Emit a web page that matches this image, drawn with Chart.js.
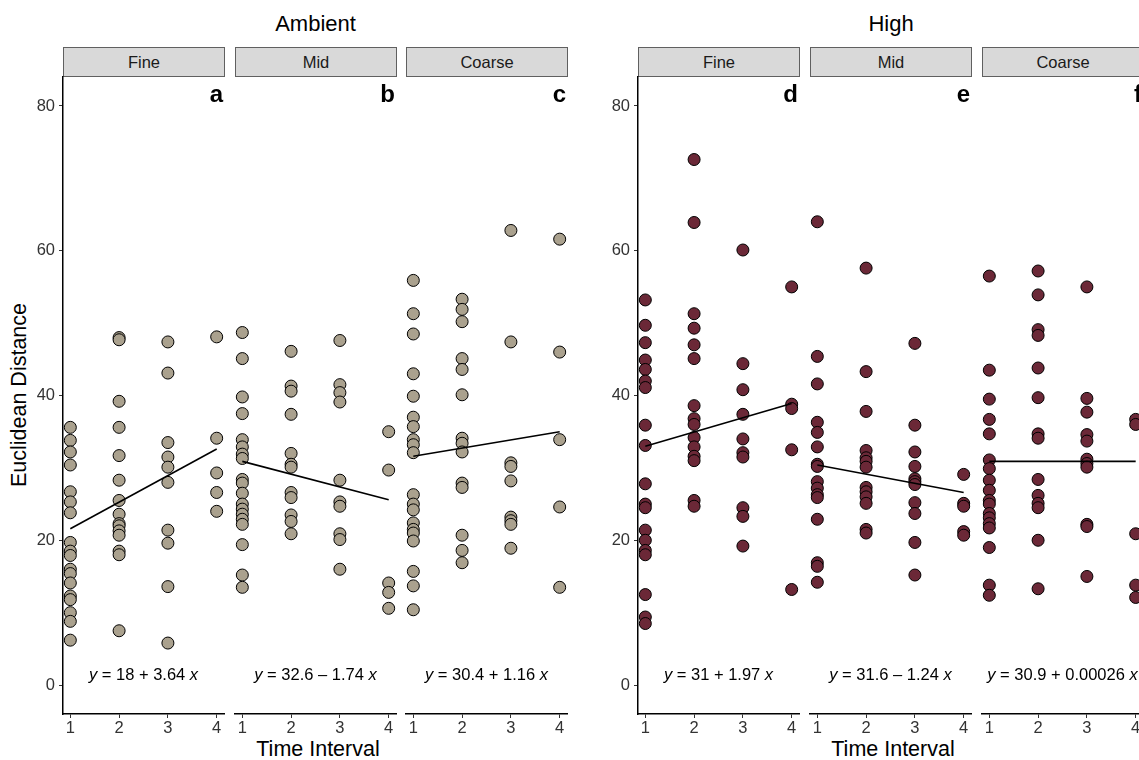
<!DOCTYPE html>
<html>
<head>
<meta charset="utf-8">
<script src="https://cdn.jsdelivr.net/npm/chart.js"></script>
<style>
html, body { margin: 0; padding: 0; overflow: hidden; background: #fff; }
body { width: 1139px; height: 760px; position: relative; font-family: "Liberation Sans", Arial, sans-serif; }
canvas { position: absolute; }
.title { position: absolute; font-size: 22px; line-height: 26px; text-align: center; color: #000; }
.strip { position: absolute; top: 47px; height: 30px; box-sizing: border-box; border: 1px solid #606060;
         background: #d9d9d9; font-size: 16.5px; line-height: 28px; text-align: center; color: #1a1a1a; }
.axtitle { position: absolute; font-size: 21.5px; line-height: 26px; text-align: center; color: #000; }
</style>
</head>
<body>
<script>
// time intervals on the x axis
var timeIntervals = [1, 2, 3, 4];
var yTicks = [0, 20, 40, 60, 80];

// Euclidean distance, one list per time interval
var ambFine = [
    [35.6, 33.8, 32.2, 30.4, 26.7, 25.3, 23.8, 19.7, 18.5, 17.9, 16.0, 15.4, 14.1, 12.3, 11.8, 10.0, 8.8, 6.2],
    [48.0, 47.7, 39.2, 35.6, 31.7, 28.3, 25.5, 23.6, 22.3, 22.0, 21.3, 20.7, 18.5, 18.0, 7.5],
    [47.4, 43.1, 33.5, 31.5, 30.1, 28.0, 21.4, 19.6, 13.6, 5.8],
    [48.1, 34.1, 29.3, 26.6, 24.0]
];
var ambMid = [
    [48.7, 45.1, 39.8, 37.5, 33.9, 32.9, 31.9, 31.3, 28.4, 27.9, 26.5, 25.0, 24.3, 23.6, 22.9, 22.2, 19.4, 15.2, 13.5],
    [46.1, 41.3, 40.6, 37.4, 32.0, 30.5, 30.1, 26.6, 25.9, 23.5, 22.6, 20.9],
    [47.6, 41.5, 40.4, 39.1, 28.3, 25.3, 24.7, 20.9, 20.1, 16.0],
    [35.0, 29.7, 14.1, 12.8, 10.6]
];
var ambCoarse = [
    [55.9, 51.3, 48.5, 43.0, 39.9, 37.0, 35.7, 33.9, 33.2, 32.1, 26.3, 25.0, 24.2, 22.4, 21.5, 21.0, 19.9, 15.7, 13.7, 10.4],
    [53.3, 51.9, 50.2, 45.1, 43.6, 40.1, 34.1, 33.4, 32.2, 27.9, 27.3, 20.7, 18.6, 16.9],
    [62.8, 47.4, 30.7, 30.2, 28.2, 23.2, 22.7, 22.2, 18.9],
    [61.6, 46.0, 33.9, 24.6, 13.5]
];
var highFine = [
    [53.2, 49.7, 47.3, 44.9, 43.6, 42.0, 41.1, 35.9, 33.1, 27.8, 25.0, 24.5, 21.4, 20.0, 18.6, 18.0, 12.5, 9.4, 8.5],
    [72.6, 63.9, 51.3, 49.3, 47.0, 45.1, 38.6, 36.8, 36.0, 34.2, 32.9, 31.6, 31.0, 25.5, 24.7],
    [60.1, 44.4, 40.8, 37.4, 34.0, 32.1, 31.5, 24.5, 23.3, 19.2],
    [55.0, 38.8, 38.2, 32.5, 13.2]
];
var highMid = [
    [64.0, 45.4, 41.6, 36.3, 34.9, 32.9, 30.5, 30.2, 28.1, 27.2, 26.3, 25.9, 22.9, 16.9, 16.4, 14.2],
    [57.6, 43.3, 37.8, 32.4, 31.4, 30.9, 30.1, 27.3, 26.7, 26.0, 25.1, 21.5, 21.0],
    [47.2, 35.9, 32.2, 30.2, 28.5, 28.1, 27.7, 25.2, 23.7, 19.7, 15.2],
    [29.1, 25.1, 24.7, 21.2, 20.7]
];
var highCoarse = [
    [56.5, 43.5, 39.5, 36.7, 34.7, 31.1, 29.9, 28.3, 26.9, 25.5, 25.0, 23.7, 23.1, 22.3, 21.7, 19.0, 13.8, 12.4],
    [57.2, 53.9, 49.1, 48.3, 43.8, 39.7, 34.7, 34.1, 28.4, 26.2, 25.1, 24.5, 20.0, 13.3],
    [55.0, 39.6, 37.7, 34.6, 33.7, 31.2, 30.6, 30.1, 22.2, 21.9, 15.0],
    [36.7, 36.0, 20.9, 13.8, 12.1]
];

// fitted line ends at interval 1 and 4, and the printed equations
var fitStart = [21.6, 30.9, 31.6, 33.0, 30.4, 30.9];
var fitEnd = [32.6, 25.6, 35.0, 38.9, 26.6, 30.9];
var eqConst = ['18 + 3.64', '32.6 \u2013 1.74', '30.4 + 1.16', '31 + 1.97', '31.6 \u2013 1.24', '30.9 + 0.00026'];
var panelLetters = ['a', 'b', 'c', 'd', 'e', 'f'];
var stripLabels = ['Fine', 'Mid', 'Coarse', 'Fine', 'Mid', 'Coarse'];
var groups = ['Ambient', 'High'];

var allData = [ambFine, ambMid, ambCoarse, highFine, highMid, highCoarse];
var fills = ['#aaa18e', '#aaa18e', '#aaa18e', '#6b2837', '#6b2837', '#6b2837'];
var panelLeft = [63, 235, 406, 638, 810, 982];
var PW = 162, TOP = 77, BOTTOM = 714, YW = 63, XH = 46, PADT = 16;
var FONT = '"Liberation Sans", Arial, sans-serif';

function addDiv(cls, text, css) {
    var d = document.createElement('div');
    d.className = cls;
    d.textContent = text;
    for (var k in css) d.style[k] = css[k];
    document.body.appendChild(d);
    return d;
}

// group titles
addDiv('title', groups[0], { left: '63px', width: '505px', top: '11px' });
addDiv('title', groups[1], { left: '638px', width: '506px', top: '11px' });
// axis titles
addDiv('axtitle', 'Euclidean Distance', { left: (19 - 150) + 'px', top: (395 - 13) + 'px', width: '300px', transform: 'rotate(-90deg)' });
addDiv('axtitle', 'Time Interval', { left: '237px', top: '736px', width: PW + 'px' });
addDiv('axtitle', 'Time Interval', { left: '812px', top: '736px', width: PW + 'px' });

// equation under each panel and the bold panel letter
var labelPlugin = {
    id: 'labels',
    afterDatasetsDraw: function (chart) {
        var i = chart.options.plugins.labels.panel;
        var ctx = chart.ctx;
        var xs = chart.scales.x, ys = chart.scales.y;
        ctx.save();
        var parts = [['y', 'italic '], [' = ' + eqConst[i] + ' ', ''], ['x', 'italic ']];
        var w = 0;
        parts.forEach(function (p) { ctx.font = p[1] + '16.5px ' + FONT; w += ctx.measureText(p[0]).width; });
        var x0 = xs.getPixelForValue(2.5) - w / 2;
        var y0 = ys.getPixelForValue(1.5);
        ctx.fillStyle = '#000';
        ctx.textBaseline = 'alphabetic';
        ctx.textAlign = 'left';
        parts.forEach(function (p) {
            ctx.font = p[1] + '16.5px ' + FONT;
            ctx.fillText(p[0], x0, y0 + 6);
            x0 += ctx.measureText(p[0]).width;
        });
        ctx.font = 'bold 24px ' + FONT;
        ctx.textAlign = 'right';
        ctx.fillText(panelLetters[i], chart.chartArea.right - 1, chart.chartArea.top + 25);
        ctx.restore();
    }
};

for (var i = 0; i < 6; i++) {
    var L = panelLeft[i];
    addDiv('strip', stripLabels[i], { left: L + 'px', width: PW + 'px' });

    var cv = document.createElement('canvas');
    cv.width = YW + PW + 6;
    cv.height = BOTTOM - TOP + XH + PADT;
    cv.style.left = (L - YW) + 'px';
    cv.style.top = (TOP - PADT) + 'px';
    document.body.appendChild(cv);

    var pts = [];
    allData[i].forEach(function (vals, k) {
        vals.forEach(function (v) { pts.push({ x: timeIntervals[k], y: v }); });
    });
    var showY = (i === 0 || i === 3);

    new Chart(cv.getContext('2d'), {
        type: 'scatter',
        data: {
            datasets: [{
                type: 'line',
                data: [{ x: timeIntervals[0], y: fitStart[i] }, { x: timeIntervals[3], y: fitEnd[i] }],
                borderColor: '#000',
                borderWidth: 1.6,
                pointRadius: 0,
                fill: false,
                order: 0
            }, {
                data: pts,
                backgroundColor: fills[i],
                borderColor: '#000',
                borderWidth: 1,
                pointRadius: 6,
                order: 1
            }]
        },
        options: {
            responsive: false,
            animation: false,
            devicePixelRatio: 1,
            layout: { padding: { left: showY ? 0 : YW, right: 6, top: PADT, bottom: 0 } },
            plugins: { legend: { display: false }, tooltip: { enabled: false }, labels: { panel: i } },
            scales: {
                x: {
                    type: 'linear',
                    min: 0.85,
                    max: 4.15,
                    afterBuildTicks: function (s) { s.ticks = timeIntervals.map(function (v) { return { value: v }; }); },
                    afterFit: function (s) { s.height = XH; },
                    grid: { drawOnChartArea: false, drawTicks: true, tickLength: 4, color: '#333' },
                    border: { display: true, color: '#000', width: 1.5 },
                    ticks: { color: '#333', font: { size: 16.5, family: FONT }, padding: 1, maxRotation: 0 }
                },
                y: {
                    display: showY,
                    min: -4,
                    max: 84,
                    afterBuildTicks: function (s) { s.ticks = yTicks.map(function (v) { return { value: v }; }); },
                    afterFit: function (s) { if (s.options.display) s.width = YW; },
                    grid: { drawOnChartArea: false, drawTicks: true, tickLength: 4, color: '#333' },
                    border: { display: true, color: '#000', width: 1.5 },
                    ticks: { color: '#333', font: { size: 16.5, family: FONT }, padding: 4 }
                }
            }
        },
        plugins: [labelPlugin]
    });
}
</script>
</body>
</html>
